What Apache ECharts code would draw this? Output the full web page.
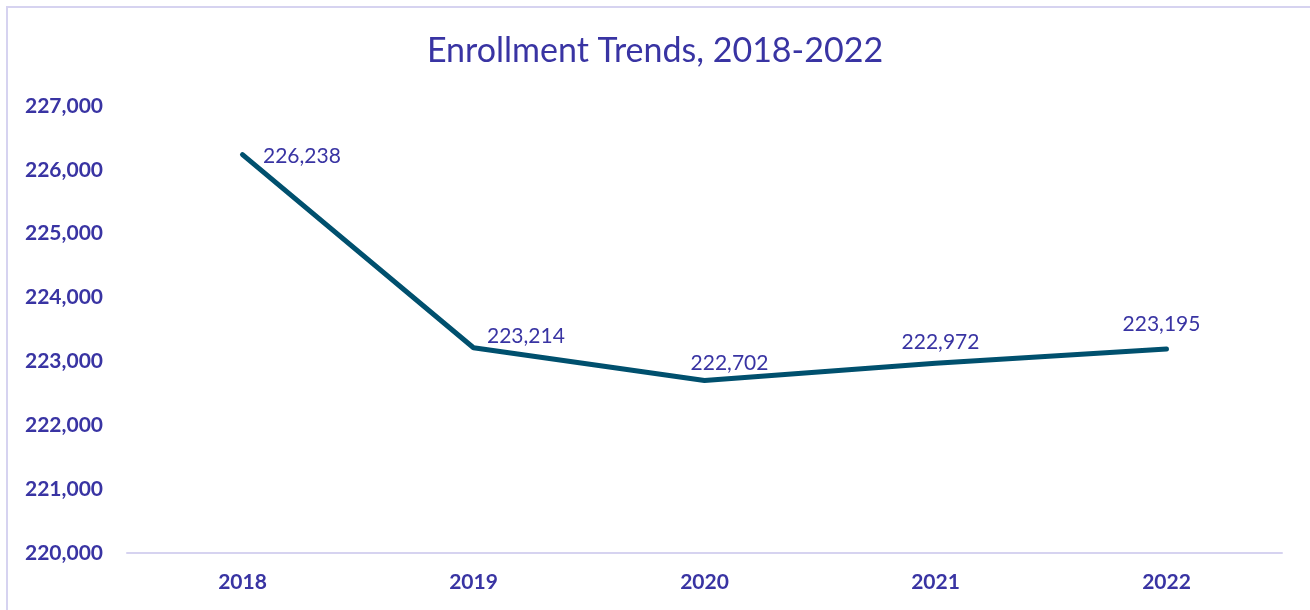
<!DOCTYPE html>
<html>
<head>
<meta charset="utf-8">
<script src="https://cdn.jsdelivr.net/npm/echarts@6/dist/echarts.min.js"></script>
<style>
  html, body { margin: 0; padding: 0; background: #ffffff; }
  #chart { width: 1310px; height: 610px; }
</style>
</head>
<body>
<div id="chart"></div>
<script>
// Enrollment by year
const years = ['2018', '2019', '2020', '2021', '2022'];
const enrollment = [226238, 223214, 222702, 222972, 223195];
const yTicks = { min: 220000, max: 227000, step: 1000 };
const chartTitle = 'Enrollment Trends, 2018-2022';

const textColor = '#3934a3';
const lineColor = '#00506e';
const frameColor = '#d6d3f0';
const fontFamily = 'Lato, "Open Sans", sans-serif';

// Per-point label placement, in year order
const labelPlacement = [
  { position: 'right', distance: 20, offset: [0, 2] },
  { position: 'right', distance: 13, offset: [0, -12] },
  { position: 'top', distance: 6, offset: [25, 0] },
  { position: 'top', distance: 10, offset: [5, 0] },
  { position: 'top', distance: 14, offset: [-5, 0] }
];

const fmt = v => v.toLocaleString('en-US');

const chart = echarts.init(document.getElementById('chart'), null, { renderer: 'canvas' });

chart.setOption({
  backgroundColor: '#ffffff',
  animation: false,
  title: {
    text: chartTitle,
    left: 'center',
    top: 29,
    textStyle: { color: textColor, fontFamily, fontWeight: 'normal', fontSize: 34 }
  },
  graphic: [{
    type: 'rect',
    shape: { x: 7, y: 7, width: 1400, height: 700 },
    style: { fill: 'none', stroke: frameColor, lineWidth: 2 },
    silent: true
  }],
  grid: { left: 127, right: 28, top: 106, bottom: 57 },
  xAxis: {
    type: 'category',
    data: years,
    boundaryGap: true,
    axisLine: { lineStyle: { color: frameColor, width: 2 } },
    axisTick: { show: false },
    axisLabel: { color: textColor, fontFamily, fontWeight: 'bold', fontSize: 21, margin: 19 }
  },
  yAxis: {
    type: 'value',
    min: yTicks.min,
    max: yTicks.max,
    interval: yTicks.step,
    splitLine: { show: false },
    axisLine: { show: false },
    axisTick: { show: false },
    axisLabel: { color: textColor, fontFamily, fontWeight: 'bold', fontSize: 21, margin: 24, formatter: fmt }
  },
  series: [{
    type: 'line',
    data: enrollment.map((v, i) => ({
      value: v,
      label: Object.assign({}, labelPlacement[i])
    })),
    symbol: 'circle',
    symbolSize: 1,
    showSymbol: true,
    itemStyle: { color: lineColor },
    lineStyle: { color: lineColor, width: 5, cap: 'round', join: 'round' },
    label: {
      show: true,
      color: textColor,
      fontFamily,
      fontSize: 21,
      formatter: p => fmt(p.value)
    }
  }]
});
</script>
</body>
</html>
